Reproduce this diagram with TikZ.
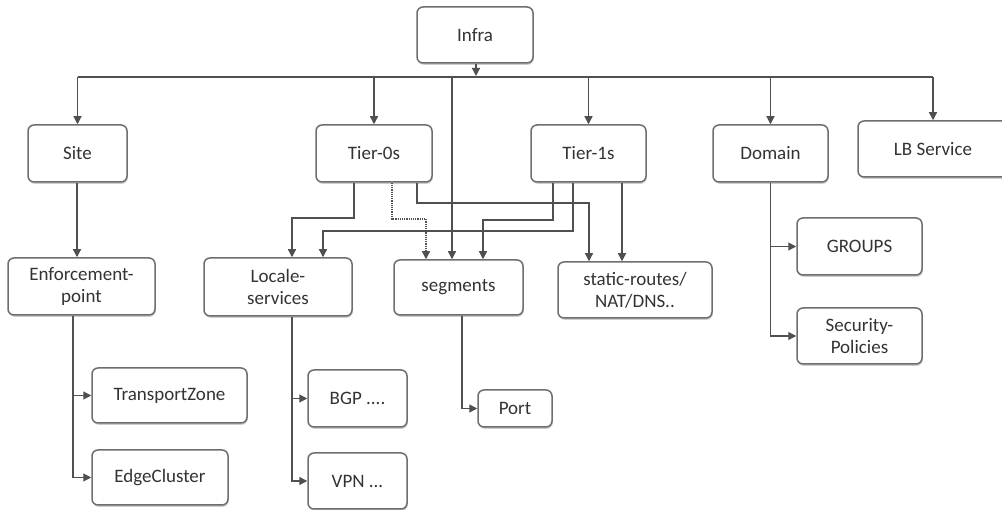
\documentclass[tikz,border=0pt]{standalone}
\usepackage{fontspec}
\setmainfont{Carlito}
\usetikzlibrary{arrows.meta,shadows}

\definecolor{boxline}{HTML}{6E6E6E}
\definecolor{wire}{HTML}{505050}
\definecolor{txt}{HTML}{333333}

\tikzset{
  obj/.style={draw=boxline, line width=1.5pt, rounded corners=6pt, fill=white,
    align=center, text=txt, font=\fontsize{19}{22}\selectfont,
    drop shadow={shadow xshift=0.8pt, shadow yshift=-1.8pt, opacity=0.4}},
  arr/.style={draw=wire, line width=1.2pt, -{Triangle[length=8pt,width=8pt]}},
  wire/.style={draw=wire, line width=1.2pt}
}

\begin{document}
\begin{tikzpicture}[x=1pt,y=-1pt]

    \useasboundingbox (0,0) rectangle (1002,510);
    \clip (0,0) rectangle (1002,510);

    % Top row
    \node[obj, minimum width=116pt, minimum height=56pt] (infra) at (475,35) {Infra};
    \node[obj, minimum width=99pt, minimum height=57pt] (site) at (77.5,153.5) {Site};
    \node[obj, minimum width=116pt, minimum height=57pt] (tier0) at (374,153.5) {Tier-0s};
    \node[obj, minimum width=115pt, minimum height=57pt] (tier1) at (588.5,153.5) {Tier-1s};
    \node[obj, minimum width=115pt, minimum height=57pt] (domain) at (770.5,153.5) {Domain};
    \node[obj, minimum width=150pt, minimum height=56pt] (lb) at (933,149) {LB Service};

    % Second row
    \node[obj, minimum width=147pt, minimum height=57pt] (enf) at (81.5,286.5) {Enforcement-\\point};
    \node[obj, minimum width=148pt, minimum height=58pt] (locale) at (278,287) {Locale-\\services};
    \node[obj, minimum width=129pt, minimum height=55pt] (segments) at (458.5,287.5) {segments};
    \node[obj, minimum width=154pt, minimum height=56pt] (static) at (635,290) {static-routes/\\NAT/DNS..};
    \node[obj, minimum width=125pt, minimum height=57pt] (groups) at (859.5,246.5) {GROUPS};
    \node[obj, minimum width=125pt, minimum height=56pt] (secpol) at (859.5,336) {Security-\\Policies};

    % Leaves
    \node[obj, minimum width=155pt, minimum height=55pt] (tz) at (169.5,395.5) {TransportZone};
    \node[obj, minimum width=136pt, minimum height=55pt] (edge) at (160,477.5) {EdgeCluster};
    \node[obj, minimum width=99pt, minimum height=57pt] (bgp) at (357.5,398.5) {BGP ....};
    \node[obj, minimum width=99pt, minimum height=56pt] (vpn) at (357.5,481) {VPN ...};
    \node[obj, minimum width=74pt, minimum height=37pt] (port) at (515,408.5) {Port};

    % Bus under Infra
    \draw[wire] (site.north |- 0,77) -- (lb.north |- 0,77);
    \draw[arr] (infra.south -| 476,0) -- (476,76);
    \foreach \n in {site,tier0,tier1,domain,lb}
        \draw[arr] (\n.north |- 0,77) -- (\n.north);
    \draw[arr] (452,77) -- (452,77 |- segments.north);

    % Site branch
    \draw[arr] (site.south -| 77,0) -- (77,0 |- enf.north);
    \draw[arr] (enf.south -| 73,0) |- (tz.west);
    \draw[arr] (enf.south -| 73,0) |- (edge.west);

    % Tier-0s
    \draw[arr] (tier0.south -| 354,0) |- (292,218) -- (292,218 |- locale.north);
    \draw[arr, densely dotted] (tier0.south -| 392,0) |- (426,219) -- (426,219 |- segments.north);
    \draw[arr] (tier0.south -| 417,0) |- (589,203) -- (589,203 |- static.north);

    % Tier-1s
    \draw[arr] (tier1.south -| 553,0) |- (483,220) -- (483,220 |- segments.north);
    \draw[arr] (tier1.south -| 573,0) |- (323,231) -- (323,231 |- locale.north);
    \draw[arr] (tier1.south -| 622,0) -- (622,0 |- static.north);

    % Locale-services and segments
    \draw[arr] (locale.south -| 292,0) |- (bgp.west);
    \draw[arr] (locale.south -| 292,0) |- (vpn.west);
    \draw[arr] (segments.south -| 462,0) |- (port.west);

    % Domain
    \draw[arr] (domain.south) |- (groups.west);
    \draw[arr] (domain.south) |- (secpol.west);

\end{tikzpicture}
\end{document}
